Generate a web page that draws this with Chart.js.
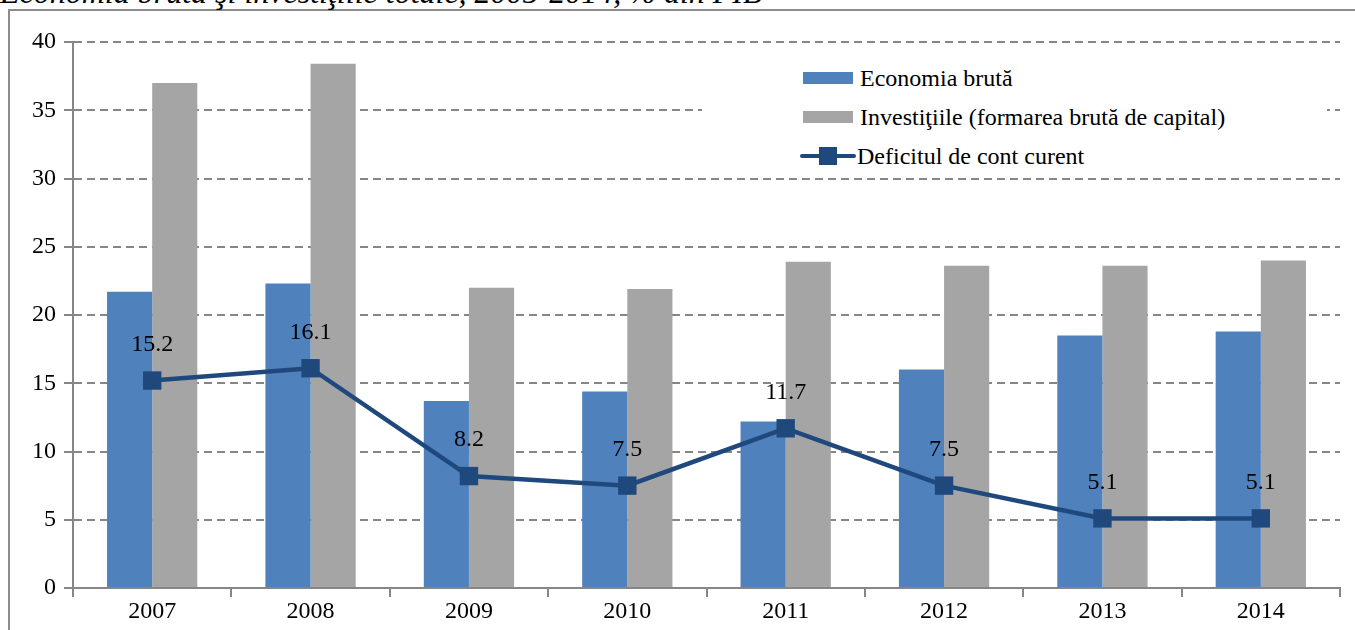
<!DOCTYPE html>
<html>
<head>
<meta charset="utf-8">
<script src="https://cdn.jsdelivr.net/npm/chart.js@4/dist/chart.umd.min.js"></script>
<style>
  body { margin: 0; background: #fff; overflow: hidden; }
  #wrap { position: relative; width: 1355px; height: 630px; }
  #title { position: absolute; left: 0px; top: -24px; font: italic 32px "Liberation Serif", serif; line-height: 32px; color: #000; white-space: nowrap; }
  #frame { position: absolute; left: 8px; top: 9px; width: 1360px; height: 640px; border-left: 2px solid #8c8c8c; border-top: 2px solid #8c8c8c; background: #fff; }
  canvas { position: absolute; left: 0; top: 0; }
  #legend { position: absolute; left: 702px; top: 52px; width: 625px; height: 120px; background: #fff; font: 24px "Liberation Serif", serif; color: #000; }
  .item { position: absolute; left: 101px; height: 26px; line-height: 26px; white-space: nowrap; }
  .sw { display: inline-block; width: 50px; height: 12px; vertical-align: middle; margin: 0 7px 0 0; position: relative; top: -2px; }
  .ln { display: inline-block; width: 56px; height: 24px; vertical-align: middle; position: relative; margin-right: 1px; top: -2px; }
  .ln:before { content: ""; position: absolute; left: 0; top: 10px; width: 56px; height: 4px; background: #1F497D; border-radius: 2px; }
  .ln:after { content: ""; position: absolute; left: 19px; top: 3px; width: 18px; height: 18px; background: #1F497D; }
</style>
</head>
<body>
<div id="wrap">
  <div id="frame"></div>
  <div id="title">Economia brută şi investiţiile totale, 2005-2014, % din PIB</div>
  <canvas id="myChart" width="1355" height="630"></canvas>
  <div id="legend">
    <div class="item" style="top:13px"><span class="sw" style="background:#4F81BD"></span>Economia brută</div>
    <div class="item" style="top:52px"><span class="sw" style="background:#A5A5A5"></span>Investiţiile (formarea brută de capital)</div>
    <div class="item" style="top:91px; left:98px"><span class="ln"></span>Deficitul de cont curent</div>
  </div>
</div>
<script>
const years = ['2007', '2008', '2009', '2010', '2011', '2012', '2013', '2014'];
const economiaBruta = [21.7, 22.3, 13.7, 14.4, 12.2, 16.0, 18.5, 18.8];
const investitiile = [37.0, 38.4, 22.0, 21.9, 23.9, 23.6, 23.6, 24.0];
const deficitul = [15.2, 16.1, 8.2, 7.5, 11.7, 7.5, 5.1, 5.1];
const yTicks = [0, 5, 10, 15, 20, 25, 30, 35, 40];

const serif = '"Liberation Serif", "Times New Roman", serif';

// etichete pe punctele liniei
const pointLabels = {
    id: 'pointLabels',
    afterDatasetsDraw(chart) {
        const ctx = chart.ctx;
        const meta = chart.getDatasetMeta(0);
        ctx.save();
        ctx.font = '24px ' + serif;
        ctx.fillStyle = '#000';
        ctx.textAlign = 'center';
        ctx.textBaseline = 'middle';
        meta.data.forEach((pt, i) => {
            ctx.fillText(deficitul[i].toFixed(1), pt.x, pt.y - 36);
        });
        ctx.restore();
    }
};

const ctx = document.getElementById('myChart').getContext('2d');
new Chart(ctx, {
    type: 'bar',
    data: {
        labels: years,
        datasets: [{
            type: 'line',
            label: 'Deficitul de cont curent',
            data: deficitul,
            borderColor: '#1F497D',
            backgroundColor: '#1F497D',
            borderWidth: 4.5,
            pointStyle: 'rect',
            pointRadius: 13,
            pointHoverRadius: 13,
            pointBorderWidth: 0,
            tension: 0,
            order: 0
        }, {
            label: 'Economia brută',
            data: economiaBruta,
            backgroundColor: '#4F81BD',
            categoryPercentage: 0.57,
            barPercentage: 1.0,
            order: 1
        }, {
            label: 'Investiţiile (formarea brută de capital)',
            data: investitiile,
            backgroundColor: '#A5A5A5',
            categoryPercentage: 0.57,
            barPercentage: 1.0,
            order: 1
        }]
    },
    options: {
        responsive: false,
        animation: false,
        layout: { padding: { top: 42, right: 15, left: 0, bottom: 0 } },
        plugins: {
            legend: { display: false },
            tooltip: { enabled: false }
        },
        scales: {
            x: {
                grid: {
                    offset: true,
                    drawOnChartArea: false,
                    color: '#868686',
                    lineWidth: 2,
                    tickLength: 9
                },
                border: { color: '#868686', width: 2 },
                ticks: { color: '#000', font: { family: serif, size: 24 }, padding: 0 },
                afterFit(scale) { scale.height = 42; }
            },
            y: {
                min: 0,
                max: 40,
                afterBuildTicks(scale) { scale.ticks = yTicks.map(v => ({ value: v })); },
                grid: {
                    color: '#868686',
                    lineWidth: 2,
                    tickBorderDash: [],
                    tickLength: 9,
                    tickColor: '#868686'
                },
                border: { color: '#868686', width: 2, dash: [8, 5] },
                ticks: { color: '#000', font: { family: serif, size: 24 }, padding: 8 },
                afterFit(scale) { scale.width = 73; }
            }
        }
    },
    plugins: [pointLabels]
});
</script>
</body>
</html>
